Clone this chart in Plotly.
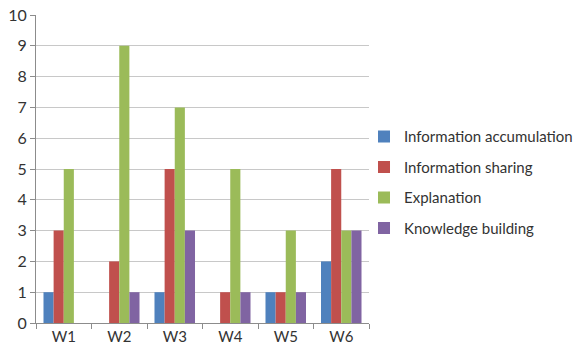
import plotly.graph_objects as go

categories = ["W1", "W2", "W3", "W4", "W5", "W6"]
series_names = ["Information accumulation", "Information sharing", "Explanation", "Knowledge building"]
info_accumulation = [1, 0, 1, 0, 1, 2]
info_sharing = [3, 2, 5, 1, 1, 5]
explanation = [5, 9, 7, 5, 3, 3]
knowledge_building = [0, 1, 3, 1, 1, 3]
y_ticks = list(range(0, 11))

colors = ["#4F81BD", "#C0504D", "#9BBB59", "#8064A2"]
values = [info_accumulation, info_sharing, explanation, knowledge_building]

fig = go.Figure()
for i, (name, vals) in enumerate(zip(series_names, values)):
    fig.add_trace(go.Bar(x=categories, y=vals, name=name, marker_color=colors[i],
                         marker_line_width=0, legendgroup=str(i)))

font_family = "Lato, 'Open Sans', sans-serif"
fig.update_layout(
    width=577, height=351,
    margin=dict(l=36, r=208, t=15, b=28, autoexpand=False),
    paper_bgcolor="white", plot_bgcolor="white",
    barmode="group", bargap=0.27, bargroupgap=0,
    font=dict(family=font_family, size=15, color="#333333"),
    legend=dict(x=0.985, xanchor="left", y=0.658, yanchor="top",
                font=dict(size=15, color="#333333"), tracegroupgap=8,
                itemwidth=30, bgcolor="rgba(0,0,0,0)"),
    showlegend=True,
)
fig.update_xaxes(showline=True, linecolor="#8c8c8c", linewidth=1, ticks="outside",
                 tickcolor="#8c8c8c", ticklen=5, tickson="boundaries", automargin=False,
                 tickfont=dict(size=15, family=font_family, color="#333333"))
fig.update_yaxes(range=[0, 10], tickvals=y_ticks, showline=True, linecolor="#8c8c8c",
                 linewidth=1, ticks="outside", tickcolor="#8c8c8c", ticklen=5, automargin=False,
                 showgrid=True, gridcolor="#c8c8c8", gridwidth=1, zeroline=False,
                 tickfont=dict(size=16, family=font_family, color="#333333"))

fig.write_html("out.html")
